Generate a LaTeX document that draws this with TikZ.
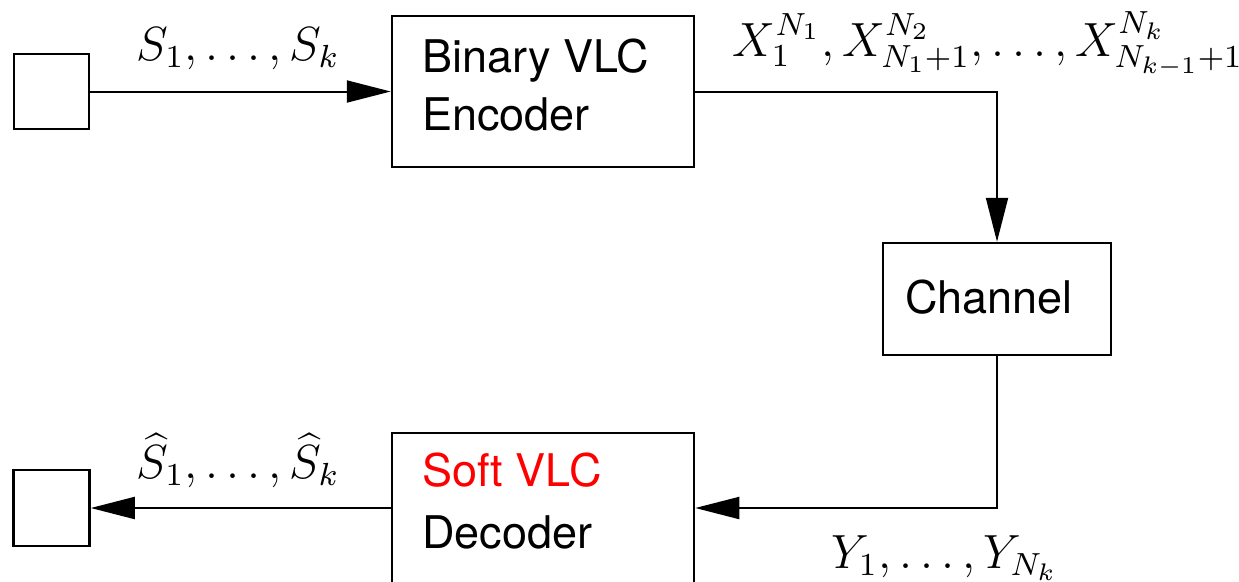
\documentclass[tikz,border=0pt]{standalone}
\usepackage{fontspec}
\setsansfont{TeX Gyre Heros}
\usetikzlibrary{arrows.meta}
\begin{document}
\begin{tikzpicture}[x=1pt,y=-1pt,
  blk/.style={draw, line width=2.5pt, inner sep=0pt},
  conn/.style={line width=2pt, -{Triangle[length=44pt,width=22pt]}},
  txt/.style={font=\fontsize{45}{54}\sffamily, anchor=base west, inner sep=0pt},
  mth/.style={font=\fontsize{12}{14}\selectfont, scale=4, anchor=base west, inner sep=0pt}]
\useasboundingbox (0,0) rectangle (1239,581);
% blocks
\node[blk, minimum width=75pt, minimum height=75pt] (src) at (51.5,91.5) {};
\node[blk, minimum width=302pt, minimum height=151pt] (enc) at (543,91.5) {};
\node[blk, minimum width=228pt, minimum height=112pt] (chan) at (997,299) {};
\node[blk, minimum width=302pt, minimum height=150pt] (dec) at (543,508) {};
\node[blk, minimum width=76pt, minimum height=76pt] (sink) at (51.5,508) {};
% block texts
\node[txt] (enc1) at (422,72) {Binary VLC};
\node[txt] (enc2) at (422,130) {Encoder};
\node[txt] (chant) at (905,313) {Channel};
\node[txt, text=red] (dec1) at (422,486) {Soft VLC};
\node[txt] (dec2) at (422,548) {Decoder};
% connectors
\draw[conn] (src.east) -- (enc.west);
\draw[conn] (enc.east) -| (chan.north);
\draw[conn] (chan.south) |- (dec.east);
\draw[conn] (dec.west) -- (sink.east);
% labels
\node[mth] (ls) at (136,60) {$S_1,\ldots,S_k$};
\node[mth] (lx) at (732,56) {$X_1^{N_1},X_{N_1+1}^{N_2},\ldots,X_{N_{k-1}+1}^{N_k}$};
\node[mth] (ly) at (831,568) {$Y_1,\ldots,Y_{N_k}$};
\node[mth] (lh) at (136,478) {$\widehat{S}_1,\ldots,\widehat{S}_k$};
\end{tikzpicture}
\end{document}
